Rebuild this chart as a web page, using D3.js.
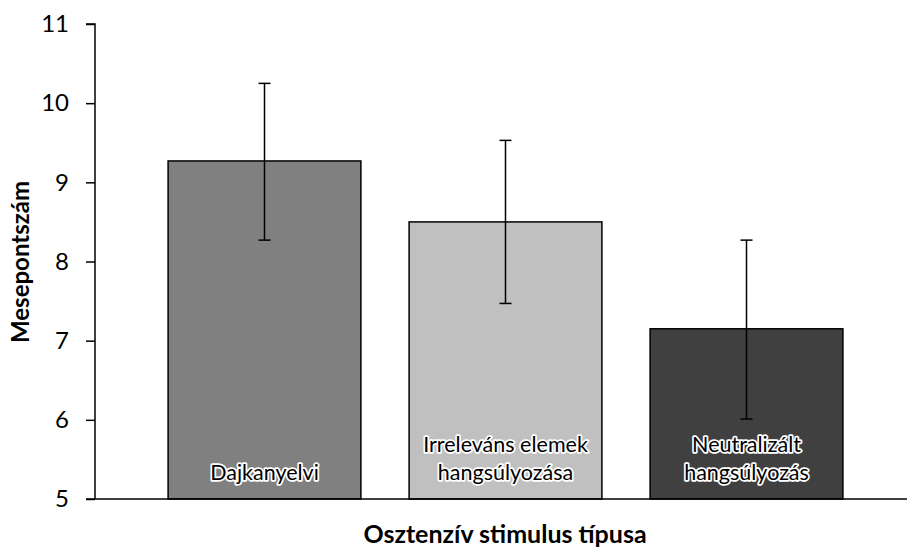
<!DOCTYPE html>
<html lang="hu">
  <head>
    <meta charset="UTF-8" />
    <title>Mesepontszám</title>
    <script src="https://d3js.org/d3.v7.min.js"></script>
    <style>
      body {
        margin: 0;
        background: #fff;
      }
      svg {
        display: block;
        font-family: Lato, "Open Sans", sans-serif;
      }
    </style>
  </head>
  <body>
    <svg width="907" height="549"></svg>

    <script>
      const categories = [
        ["Dajkanyelvi"],
        ["Irreleváns elemek", "hangsúlyozása"],
        ["Neutralizált", "hangsúlyozás"],
      ];
      const means = [9.27, 8.5, 7.15];
      const errLow = [8.27, 7.47, 6.01];
      const errHigh = [10.25, 9.53, 8.27];
      const colors = ["#808080", "#c0c0c0", "#404040"];
      const yTicks = [5, 6, 7, 8, 9, 10, 11];

      const data = categories.map((c, i) => ({
        key: i,
        lines: c,
        mean: means[i],
        lo: errLow[i],
        hi: errHigh[i],
        color: colors[i],
      }));

      const svg = d3.select("svg");
      const axisX = 95;
      const baseY = 499;

      const x = d3
        .scaleBand()
        .domain(data.map((d) => d.key))
        .range([144, 867])
        .paddingInner(0.2)
        .paddingOuter(0.1);

      const y = d3.scaleLinear().domain([5, 11]).range([baseY, 24]);

      // bars
      svg
        .selectAll(".bar")
        .data(data)
        .enter()
        .append("rect")
        .attr("class", "bar")
        .attr("x", (d) => x(d.key))
        .attr("y", (d) => y(d.mean))
        .attr("width", x.bandwidth())
        .attr("height", (d) => y(5) - y(d.mean))
        .attr("fill", (d) => d.color)
        .attr("stroke", "#000")
        .attr("stroke-width", 1.5);

      // error bars
      const eb = svg
        .selectAll(".err")
        .data(data)
        .enter()
        .append("g")
        .attr("class", "err")
        .attr("stroke", "#000")
        .attr("stroke-width", 1.5);
      const cx = (d) => x(d.key) + x.bandwidth() / 2;
      eb.append("line")
        .attr("x1", cx)
        .attr("x2", cx)
        .attr("y1", (d) => y(d.lo))
        .attr("y2", (d) => y(d.hi));
      eb.append("line")
        .attr("x1", (d) => cx(d) - 6)
        .attr("x2", (d) => cx(d) + 6)
        .attr("y1", (d) => y(d.hi))
        .attr("y2", (d) => y(d.hi));
      eb.append("line")
        .attr("x1", (d) => cx(d) - 6)
        .attr("x2", (d) => cx(d) + 6)
        .attr("y1", (d) => y(d.lo))
        .attr("y2", (d) => y(d.lo));

      // labels inside bars, with white halo
      const lbl = svg
        .selectAll(".lbl")
        .data(data)
        .enter()
        .append("text")
        .attr("class", "lbl")
        .attr("text-anchor", "middle")
        .attr("font-size", 21.5)
        .attr("fill", "#000")
        .attr("stroke", "#fff")
        .attr("stroke-width", 3.5)
        .attr("stroke-linejoin", "round")
        .attr("paint-order", "stroke");
      lbl
        .selectAll("tspan")
        .data((d) =>
          d.lines.map((t, j) => ({ t, j, n: d.lines.length, cx: cx(d) }))
        )
        .enter()
        .append("tspan")
        .attr("x", (d) => d.cx)
        .attr("y", (d) => baseY - 19 - (d.n - 1 - d.j) * 28)
        .text((d) => d.t);

      // y axis
      const yAxis = svg
        .append("g")
        .attr("transform", `translate(${axisX},0)`)
        .call(
          d3
            .axisLeft(y)
            .tickValues(yTicks)
            .tickFormat(d3.format("d"))
            .tickSize(9)
            .tickPadding(17)
        );
      yAxis
        .select(".domain")
        .attr("stroke-width", 1.5)
        .attr("d", `M-9,${y(11)}H0V${baseY}`);
      yAxis.selectAll(".tick line").attr("stroke-width", 1.5);
      yAxis
        .selectAll(".tick text")
        .attr("font-size", 24)
        .attr("font-family", "Lato, 'Open Sans', sans-serif")
        .attr("fill", "#000");

      // x axis baseline
      svg
        .append("line")
        .attr("x1", axisX - 9)
        .attr("x2", 907)
        .attr("y1", baseY)
        .attr("y2", baseY)
        .attr("stroke", "#000")
        .attr("stroke-width", 1.5);

      // titles
      svg
        .append("text")
        .attr("x", 505)
        .attr("y", 543)
        .attr("text-anchor", "middle")
        .attr("font-size", 25)
        .attr("font-weight", "bold")
        .text("Osztenzív stimulus típusa");

      svg
        .append("text")
        .attr("transform", "translate(29,262) rotate(-90)")
        .attr("text-anchor", "middle")
        .attr("font-size", 24)
        .attr("font-weight", "bold")
        .text("Mesepontszám");
    </script>
  </body>
</html>
